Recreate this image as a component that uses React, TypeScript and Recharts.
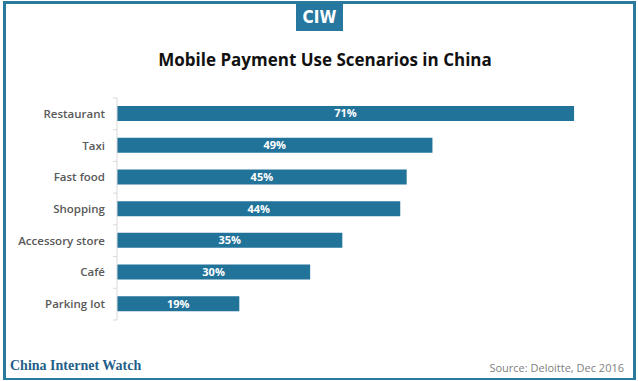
import { Bar, BarChart, XAxis, YAxis, LabelList } from "recharts"

const categories = ["Restaurant", "Taxi", "Fast food", "Shopping", "Accessory store", "Café", "Parking lot"]
const shares = [71, 49, 45, 44, 35, 30, 19]

const data = categories.map((name, i) => ({ name, share: shares[i] }))

const CHART_H = 381
const MARGIN = { top: 98, right: 6, bottom: 61, left: 0 }
const BAND = (CHART_H - MARGIN.top - MARGIN.bottom) / categories.length

const BLUE = "#22739a"
const FONT = "'Open Sans', 'DejaVu Sans', sans-serif"

function CategoryTick(props: any) {
  const { x, y, payload, index } = props
  const ax = x + 12
  return (
    <g>
      <text x={x} y={y} dy={4} textAnchor="end" fill="#595959" fontSize={11.5} fontWeight={600} fontFamily={FONT}>
        {payload.value}
      </text>
      <line x1={ax - 4} x2={ax} y1={y - BAND / 2} y2={y - BAND / 2} stroke="#d9d9d9" />
      {index === categories.length - 1 && (
        <line x1={ax - 4} x2={ax} y1={y + BAND / 2} y2={y + BAND / 2} stroke="#d9d9d9" />
      )}
    </g>
  )
}

export default function App() {
  return (
    <div style={{ position: "absolute", top: 0, left: 0, width: 638, height: 381, background: "#fff", fontFamily: FONT }}>
      <div
        style={{
          position: "absolute",
          left: 3,
          top: 1,
          width: 627,
          height: 374,
          border: `3px solid #2a7a9e`,
          borderBottomWidth: 2,
        }}
      />
      <div
        style={{
          position: "absolute",
          left: 296,
          top: 4,
          width: 47,
          height: 27,
          background: "#2678a0",
          color: "#fff",
          fontWeight: 700,
          fontSize: 17,
          lineHeight: "27px",
          textAlign: "center",
          fontFamily: "'DejaVu Sans Condensed', 'DejaVu Sans', sans-serif",
        }}
      >
        CIW
      </div>
      <div
        style={{
          position: "absolute",
          top: 48,
          left: 0,
          width: 650,
          textAlign: "center",
          fontSize: 17,
          fontWeight: 700,
          color: "#111",
        }}
      >
        Mobile Payment Use Scenarios in China
      </div>
      <div style={{ position: "absolute", top: 0, left: 0 }}>
        <BarChart width={638} height={CHART_H} data={data} layout="vertical" margin={MARGIN}>
          <XAxis type="number" domain={[0, 80]} hide />
          <YAxis
            type="category"
            dataKey="name"
            width={117}
            tickLine={false}
            tickSize={4}
            tickMargin={8}
            axisLine={{ stroke: "#d9d9d9" }}
            tick={<CategoryTick />}
            interval={0}
          />
          <Bar dataKey="share" fill={BLUE} barSize={15} isAnimationActive={false}>
            <LabelList
              dataKey="share"
              position="center"
              formatter={(v: any) => `${v}%`}
              fill="#fff"
              fontSize={11}
              fontWeight={700}
              fontFamily={FONT}
            />
          </Bar>
        </BarChart>
      </div>
      <div
        style={{
          position: "absolute",
          left: 10,
          top: 358,
          fontFamily: "'Liberation Serif', 'DejaVu Serif', serif",
          fontWeight: 700,
          fontSize: 14,
          color: "#1f5f8a",
        }}
      >
        China Internet Watch
      </div>
      <div
        style={{
          position: "absolute",
          right: 14,
          top: 360,
          fontSize: 11,
          color: "#7f7f7f",
        }}
      >
        Source: Deloitte, Dec 2016
      </div>
    </div>
  )
}
